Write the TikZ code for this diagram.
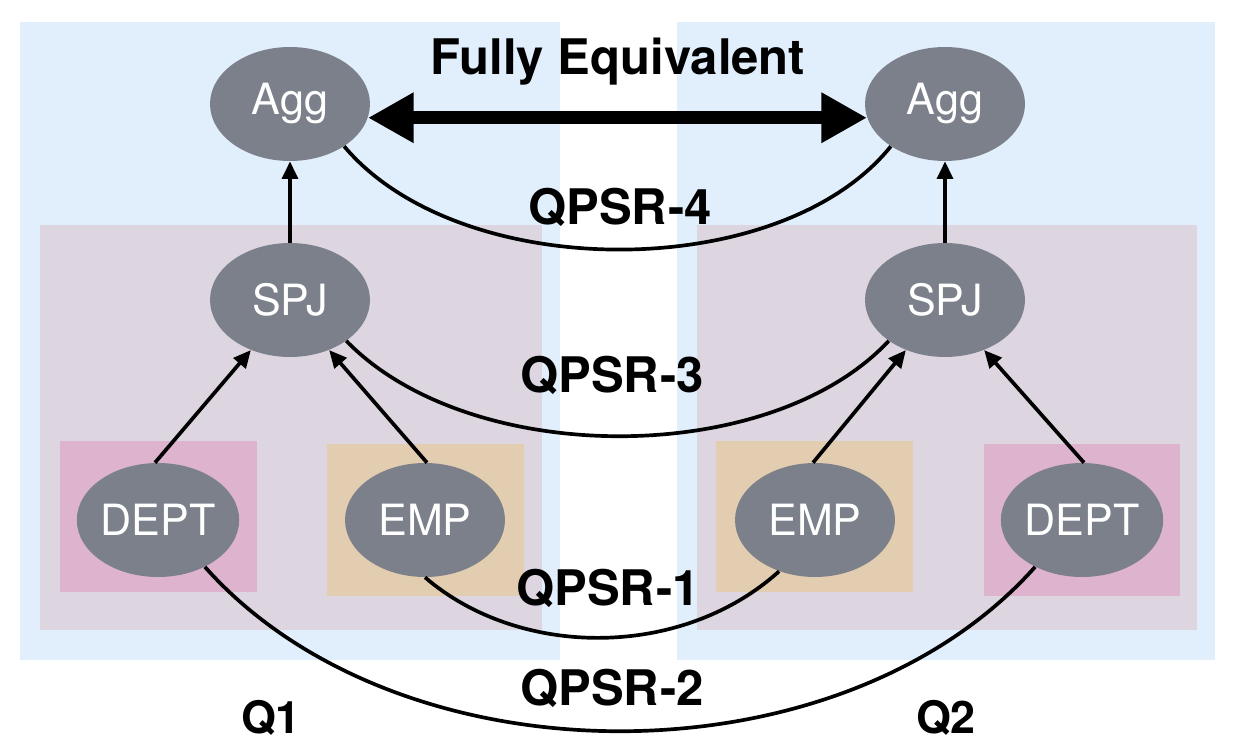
\documentclass[tikz,border=0pt]{standalone}
\usepackage{fontspec}
\setmainfont{TeX Gyre Heros}
\usetikzlibrary{arrows.meta,shapes.geometric}
\definecolor{qblue}{HTML}{E1EEFB}
\definecolor{qpurple}{HTML}{DDD6E1}
\definecolor{qpink}{HTML}{DDB3CE}
\definecolor{qtan}{HTML}{E3CDB0}
\definecolor{opgray}{HTML}{7B808A}
\begin{document}
\begin{tikzpicture}[x=0.02cm,y=-0.02cm,
  op/.style={ellipse,fill=opgray,minimum width=3.2cm,minimum height=2.28cm,inner sep=0pt,text=white,font=\fontsize{24.5}{29}\selectfont},
  lbl/.style={anchor=base,font=\bfseries\fontsize{27.9}{32}\selectfont},
  qlbl/.style={anchor=base,font=\bfseries\fontsize{25.5}{30}\selectfont},
  flow/.style={line width=2.1pt,-{Triangle[length=10pt,width=9pt]}},
  qpsr/.style={line width=2.1pt},
  equiv/.style={line width=7.4pt,{Triangle[length=26pt,width=27pt]}-{Triangle[length=26pt,width=27pt]}}]
\useasboundingbox (0,0) rectangle (1236,750);
% query boxes
\fill[qblue] (20,22) rectangle (560,660);
\fill[qblue] (677,22) rectangle (1215,660);
\fill[qpurple] (40,225) rectangle (542,630);
\fill[qpurple] (697,225) rectangle (1197,630);
\fill[qpink] (60,441) rectangle (257,592);
\fill[qtan] (327,444) rectangle (524,596);
\fill[qtan] (716,441) rectangle (913,592);
\fill[qpink] (984,444) rectangle (1180,596);
% operators
\node[op] (aggL) at (290,104) {Agg};
\node[op] (aggR) at (945,104) {Agg};
\node[op] (spjL) at (290,300) {SPJ};
\node[op] (spjR) at (945,300) {SPJ};
\node[op] (deptL) at (158,520) {DEPT};
\node[op] (empL) at (425,520) {EMP};
\node[op] (empR) at (815,520) {EMP};
\node[op] (deptR) at (1082,520) {DEPT};
% tree edges
\draw[flow] (spjL.north) -- (aggL.south);
\draw[flow] (spjR.north) -- (aggR.south);
\draw[flow] (deptL.93) -- (spjL.-128);
\draw[flow] (empL.88) -- (spjL.-52);
\draw[flow] (empR.92) -- (spjR.-128);
\draw[flow] (deptR.88) -- (spjR.-52);
% equivalence
\draw[equiv] (aggL.-10) -- (aggR.190);
% QPSR curves
\draw[qpsr] (aggL.-38) .. controls (460,284) and (780,284) .. (aggR.-142);
\draw[qpsr] (spjL.-36) .. controls (470,468) and (770,468) .. (spjR.-144);
\draw[qpsr] (empL.-90) .. controls (520,659) and (682,659) .. (empR.-125);
\draw[qpsr] (deptL.-45) .. controls (400,786) and (840,786) .. (deptR.-135);
% labels
\node[lbl] (feq) at (618,74) {Fully Equivalent};
\node[lbl] (q4) at (620,224) {QPSR-4};
\node[lbl] (q3) at (612,392) {QPSR-3};
\node[lbl] (q1l) at (608,605) {QPSR-1};
\node[lbl] (q2l) at (612,705) {QPSR-2};
\node[qlbl] (Q1) at (271,733) {Q1};
\node[qlbl] (Q2) at (946,733) {Q2};
\end{tikzpicture}
\end{document}
